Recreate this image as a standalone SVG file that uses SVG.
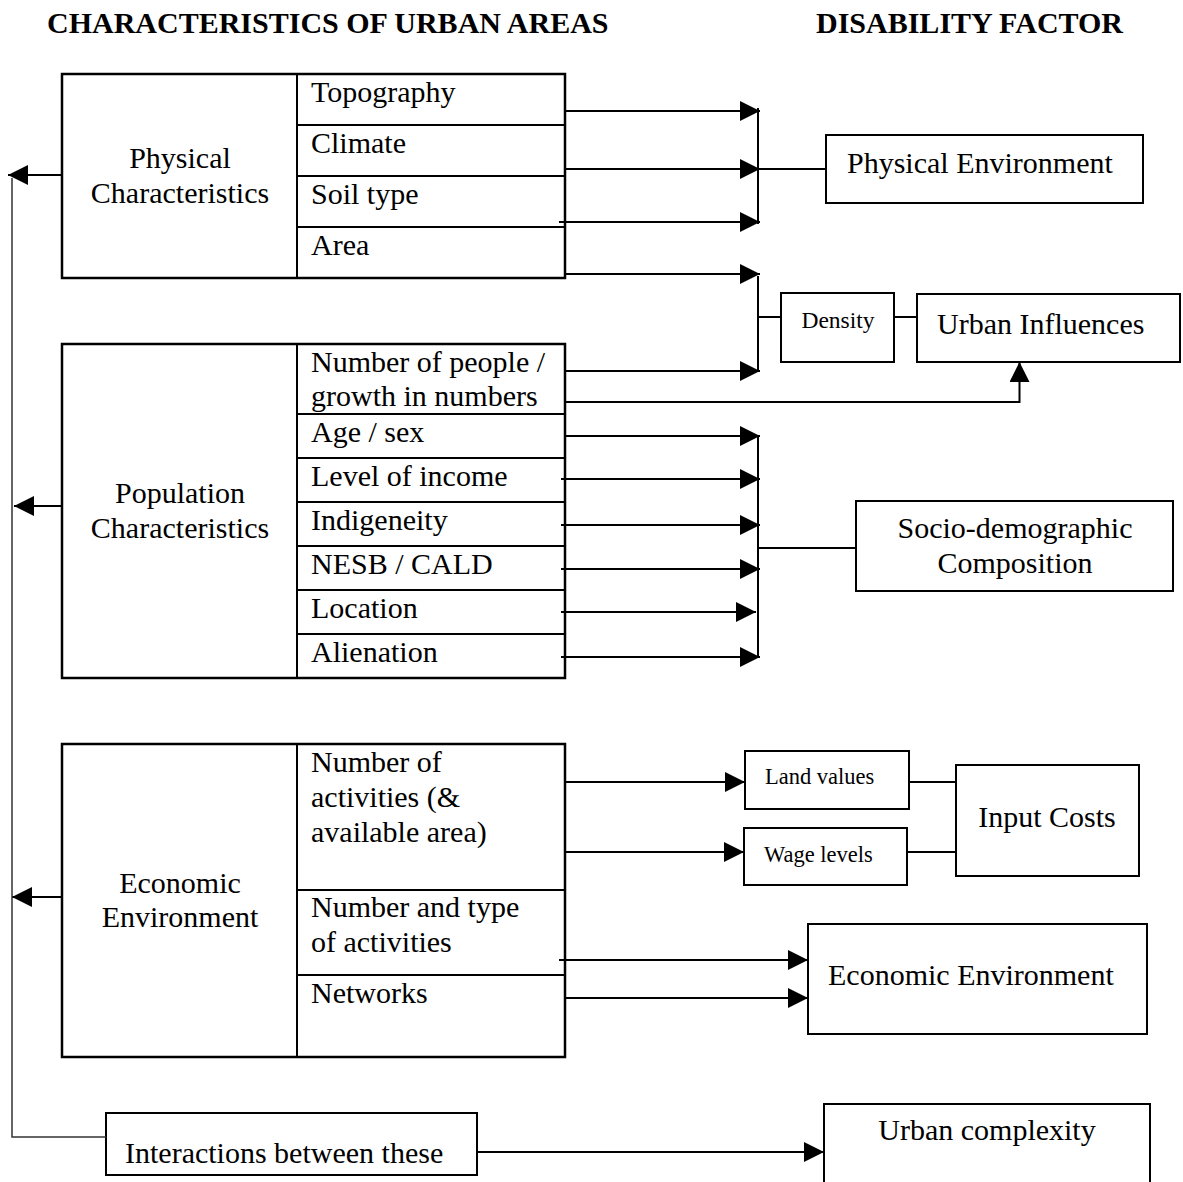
<svg xmlns="http://www.w3.org/2000/svg" width="1183" height="1182" viewBox="0 0 1183 1182">
<style>
text{font-family:"Liberation Serif","Times New Roman",serif;fill:#000}
.t{font-size:30px}
.s{font-size:23.5px}
.xs{font-size:22.5px}
.h{font-size:30px;font-weight:bold}
.c{text-anchor:middle}
.box{fill:#fff;stroke:#000;stroke-width:2.5}
.rb{fill:#fff;stroke:#000;stroke-width:2}
.ln{fill:none;stroke:#000;stroke-width:2}
.ar{fill:none;stroke:#000;stroke-width:2;marker-end:url(#ah)}
.gl{fill:none;stroke:#333;stroke-width:1.5}
</style>
<defs>
<marker id="ah" viewBox="0 0 20 20" refX="20" refY="10" markerWidth="20" markerHeight="20" markerUnits="userSpaceOnUse" orient="auto">
<path d="M0,0 L20,10 L0,20 z" fill="#000"/>
</marker>
</defs>
<rect width="1183" height="1182" fill="#fff"/>
<g id="titles">
<text class="h" x="47" y="33">CHARACTERISTICS OF URBAN AREAS</text>
<text class="h" x="816" y="33">DISABILITY FACTOR</text>
</g>
<g id="physical-characteristics">
<rect class="box" x="62" y="74" width="503" height="204"/>
<path class="ln" d="M297,74 V278 M297,125 H565 M297,176 H565 M297,227 H565" stroke-width="2.5"/>
<text class="t c" x="180" y="168">Physical</text>
<text class="t c" x="180" y="203">Characteristics</text>
<text class="t" x="311" y="102">Topography</text>
<text class="t" x="311" y="153">Climate</text>
<text class="t" x="311" y="204">Soil type</text>
<text class="t" x="311" y="255">Area</text>
</g>
<g id="population-characteristics">
<rect class="box" x="62" y="344" width="503" height="334"/>
<path class="ln" d="M297,344 V678 M297,414 H565 M297,458 H565 M297,502 H565 M297,546 H565 M297,590 H565 M297,634 H565" stroke-width="2.5"/>
<text class="t c" x="180" y="503">Population</text>
<text class="t c" x="180" y="538">Characteristics</text>
<text class="t" x="311" y="372">Number of people /</text>
<text class="t" x="311" y="406">growth in numbers</text>
<text class="t" x="311" y="442">Age / sex</text>
<text class="t" x="311" y="486">Level of income</text>
<text class="t" x="311" y="530">Indigeneity</text>
<text class="t" x="311" y="574">NESB / CALD</text>
<text class="t" x="311" y="618">Location</text>
<text class="t" x="311" y="662">Alienation</text>
</g>
<g id="economic-environment-left">
<rect class="box" x="62" y="744" width="503" height="313"/>
<path class="ln" d="M297,744 V1057 M297,890 H565 M297,975 H565" stroke-width="2.5"/>
<text class="t c" x="180" y="893">Economic</text>
<text class="t c" x="180" y="927">Environment</text>
<text class="t" x="311" y="772">Number of</text>
<text class="t" x="311" y="807">activities (&amp;</text>
<text class="t" x="311" y="842">available area)</text>
<text class="t" x="311" y="917">Number and type</text>
<text class="t" x="311" y="952">of activities</text>
<text class="t" x="311" y="1003">Networks</text>
</g>
<g id="interactions">
<rect class="rb" x="106" y="1113" width="371" height="62"/>
<text class="t" x="125" y="1163">Interactions between these</text>
</g>
<g id="physical-environment">
<rect class="rb" x="826" y="135" width="317" height="68"/>
<text class="t" x="847" y="173">Physical Environment</text>
</g>
<g id="density">
<rect class="rb" x="781" y="293" width="113" height="69"/>
<text class="s c" x="838" y="328">Density</text>
</g>
<g id="urban-influences">
<rect class="rb" x="917" y="294" width="263" height="68"/>
<text class="t" x="937" y="334">Urban Influences</text>
</g>
<g id="socio-demographic">
<rect class="rb" x="856" y="501" width="317" height="90"/>
<text class="t c" x="1015" y="538">Socio-demographic</text>
<text class="t c" x="1015" y="573">Composition</text>
</g>
<g id="land-values">
<rect class="rb" x="745" y="751" width="164" height="58"/>
<text class="xs" x="765" y="784">Land values</text>
</g>
<g id="wage-levels">
<rect class="rb" x="744" y="828" width="163" height="57"/>
<text class="xs" x="764" y="862">Wage levels</text>
</g>
<g id="input-costs">
<rect class="rb" x="956" y="765" width="183" height="111"/>
<text class="t c" x="1047" y="827">Input Costs</text>
</g>
<g id="economic-environment-right">
<rect class="rb" x="808" y="924" width="339" height="110"/>
<text class="t" x="828" y="985">Economic Environment</text>
</g>
<g id="urban-complexity">
<path class="rb" d="M824,1190 V1104 H1150 V1190"/>
<text class="t c" x="987" y="1140">Urban complexity</text>
</g>
<g id="connectors">
<path class="ar" d="M564,111 H760"/>
<path class="ar" d="M564,169 H760"/>
<path class="ar" d="M559,222 H760"/>
<path class="ln" d="M758,108 V224 M758,169 H826"/>
<path class="ar" d="M564,274 H760"/>
<path class="ar" d="M564,371 H760"/>
<path class="ln" d="M758,276 V372 M758,317 H781 M894,317 H917"/>
<path class="ar" d="M564,402 H1019.5 V362"/>
<path class="ar" d="M564,436 H760"/>
<path class="ar" d="M561,479 H760"/>
<path class="ar" d="M561,525 H760"/>
<path class="ar" d="M561,569 H760"/>
<path class="ar" d="M561,612 H756"/>
<path class="ar" d="M561,657 H760"/>
<path class="ln" d="M758,436 V658 M758,548 H856"/>
<path class="ar" d="M564,782 H745"/>
<path class="ar" d="M564,852 H744"/>
<path class="ln" d="M909,782 H956 M907,852 H956"/>
<path class="ar" d="M559,960 H808"/>
<path class="ar" d="M564,998 H808"/>
<path class="ar" d="M477,1152 H824"/>
<path class="ar" d="M62,175 H8"/>
<path class="ar" d="M62,506 H14"/>
<path class="ar" d="M62,897 H12"/>
<path class="gl" d="M12,178 V1137 H106"/>
</g>
</svg>
